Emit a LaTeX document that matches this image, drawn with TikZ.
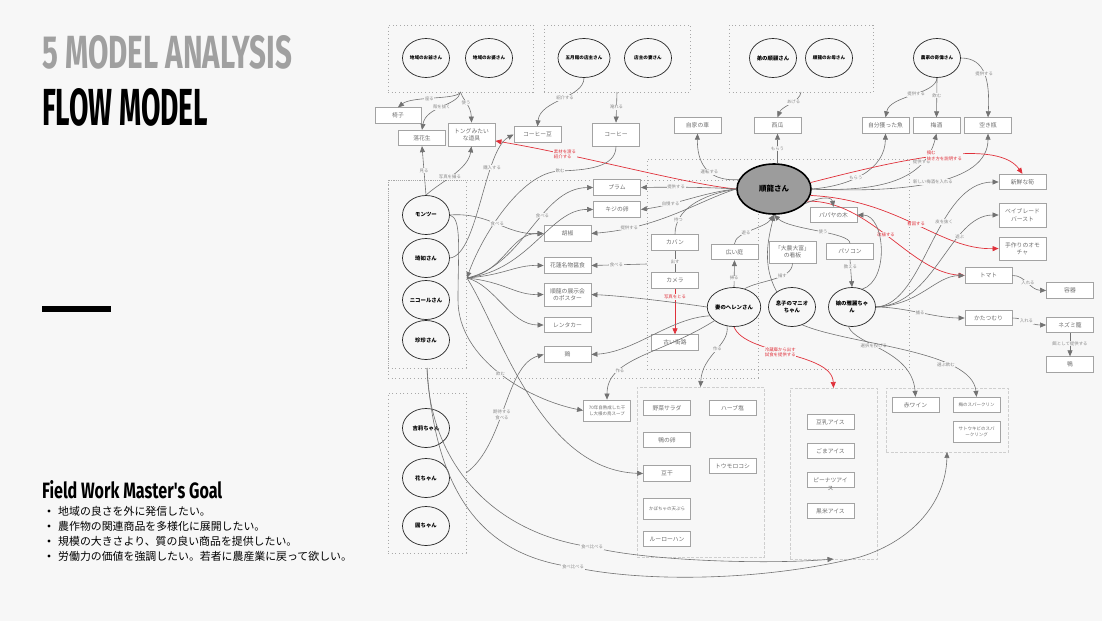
\documentclass[tikz,border=0pt]{standalone}
\usepackage{graphicx}
\usepackage{fontspec}
\setmainfont{Noto Sans CJK JP}
\newfontfamily\headfont{Fira Sans}
\usetikzlibrary{arrows.meta,shapes.geometric}

\definecolor{bgc}{HTML}{F7F7F7}
\definecolor{boxline}{HTML}{A3A3A3}
\definecolor{boxtext}{HTML}{6E6E6E}
\definecolor{lblc}{HTML}{8A8A8A}
\definecolor{arrc}{HTML}{727272}
\definecolor{redc}{HTML}{E0313B}
\definecolor{hubc}{HTML}{9C9C9C}
\definecolor{grpc}{HTML}{A8A8A8}
\definecolor{subgrpc}{HTML}{CFCFCF}
\definecolor{titlegray}{HTML}{A0A0A0}

\tikzset{
  item/.style={draw=boxline, fill=white, line width=0.8pt, minimum width=47pt,
    minimum height=15.5pt, inner sep=1pt, font=\fontsize{5.8}{7.2}\selectfont,
    text=boxtext, align=center},
  smallitem/.style={item, font=\fontsize{4.5}{6}\selectfont},
  tallitem/.style={item, minimum height=23pt},
  person/.style={ellipse, draw=black!85, line width=0.7pt, fill=bgc,
    minimum width=47pt, minimum height=39pt, inner sep=0pt,
    font=\fontsize{5.4}{6.8}\selectfont\bfseries, align=center},
  topperson/.style={person, font=\fontsize{4.6}{6}\selectfont\bfseries},
  hubnode/.style={ellipse, draw=black, line width=1.6pt, fill=hubc,
    minimum width=74pt, minimum height=50pt, inner sep=0pt,
    font=\fontsize{7.5}{9}\selectfont\bfseries},
  grp/.style={draw=grpc, line width=0.9pt, dash pattern=on 0.9pt off 2.8pt,
    inner sep=0pt, outer sep=0pt},
  subgrp/.style={draw=subgrpc, line width=0.6pt, dash pattern=on 3pt off 1.5pt,
    inner sep=0pt, outer sep=0pt},
  conn/.style={draw=arrc, line width=0.6pt, -{Triangle[length=6pt,width=5pt]}},
  plain/.style={draw=arrc, line width=0.6pt},
  hot/.style={draw=redc, line width=0.7pt, -{Triangle[length=6pt,width=5pt]}},
  lbl/.style={font=\fontsize{4.4}{5.4}\selectfont, text=lblc, fill=bgc,
    inner sep=0.6pt, align=center},
  hotlbl/.style={lbl, text=redc, align=left},
  bullet/.style={anchor=west, inner sep=0pt, font=\fontsize{10.9}{12}\selectfont},
}

\begin{document}
\begin{tikzpicture}[x=1pt,y=-1pt]
\fill[bgc] (0,0) rectangle (1102,621);
\useasboundingbox (0,0) rectangle (1102,621);

% ---------- left panel ----------
\node[anchor=north west, inner sep=0pt, text=titlegray] (title) at (42,35)
  {\resizebox{250pt}{33pt}{\headfont\bfseries 5 MODEL ANALYSIS}};
\node[anchor=north west, inner sep=0pt] (subtitle) at (42,88)
  {\resizebox{166pt}{37pt}{\headfont\bfseries FLOW MODEL}};
\fill (42,306) rectangle (111,312);
\node[anchor=north west, inner sep=0pt] (goal) at (42,480)
  {\resizebox{180pt}{18pt}{\headfont\bfseries Field Work Master's Goal}};
\foreach \yy in {511,526,541,556} { \fill (49,\yy) circle (1.7); }
\node[bullet] (goal1) at (58,511) {地域の良さを外に発信したい。};
\node[bullet] (goal2) at (58,526) {農作物の関連商品を多様化に展開したい。};
\node[bullet] (goal3) at (58,541) {規模の大きさより、質の良い商品を提供したい。};
\node[bullet] (goal4) at (58,556) {労働力の価値を強調したい。若者に農産業に戻って欲しい。};

% ---------- group frames ----------
\node[grp, minimum width=145pt, minimum height=67pt] (G1) at (460.5,58.5) {};
\node[grp, minimum width=146pt, minimum height=67pt] (G2) at (617,58.5) {};
\node[grp, minimum width=144pt, minimum height=67pt] (G3) at (801,58.5) {};
\node[grp, minimum width=370pt, minimum height=198pt] (GA) at (573,279) {};
\node[grp, minimum width=78pt, minimum height=188pt] (G5) at (427,274) {};
\node[grp, minimum width=262pt, minimum height=210pt] (G4) at (778,264) {};
\node[grp, minimum width=78pt, minimum height=160pt] (G6) at (427,473) {};
\node[subgrp, minimum width=127pt, minimum height=170pt] (G7) at (700.5,472) {};
\node[subgrp, minimum width=87pt, minimum height=171pt] (G8) at (833.5,473.5) {};
\node[subgrp, minimum width=122pt, minimum height=64pt] (G9) at (947,420) {};

% ---------- people ----------
\node[topperson] (jiji) at (426,58) {地域のお爺さん};
\node[topperson] (baba) at (489,58) {地域のお婆さん};
\node[topperson] (tenshu) at (584,58) {五月館の店主さん};
\node[topperson] (tsuma) at (648,58) {店主の妻さん};
\node[person] (otouto) at (773,58) {弟の順顧さん};
\node[topperson] (haha) at (829,58) {順龍のお母さん};
\node[topperson] (nouka) at (937,58) {農家の奇偉さん};
\node[person] (montsu) at (426,215) {モンツー};
\node[person] (qiru) at (426,258) {琦如さん};
\node[person] (nicole) at (426,300) {ニコールさん};
\node[person] (zhen) at (426,340) {珍珍さん};
\node[person] (jili) at (426,428) {吉莉ちゃん};
\node[person] (hana) at (426,478) {花ちゃん};
\node[person] (yuan) at (426,526) {圓ちゃん};
\node[person] (helen) at (734,307) {妻のヘレンさん};
\node[person] (manio) at (792,307) {息子のマニオ\\ちゃん};
\node[person] (musume) at (852,307) {娘の雅麗ちゃ\\ん};
\node[hubnode] (hub) at (774,189) {順龍さん};

% ---------- things ----------
\node[item, minimum width=46pt] (isu) at (398,115.5) {椅子};
\node[item] (rakka) at (422,138) {落花生};
\node[tallitem] (tong) at (471.5,134.5) {トングみたい\\な道具};
\node[item] (mame) at (537.5,134.5) {コーヒー豆};
\node[tallitem] (coffee) at (616,134.5) {コーヒー};
\node[item] (car) at (697.5,125.5) {自家の車};
\node[item] (suika) at (777.5,125.5) {西瓜};
\node[item] (fish) at (885.5,125.5) {自分獲った魚};
\node[item] (umeshu) at (936.5,125.5) {梅酒};
\node[item] (bin) at (988,125.5) {空き瓶};

\node[item] (plum) at (617,187.5) {プラム};
\node[item] (kiji) at (617,209.5) {キジの卵};
\node[item] (kosho) at (567.5,233.5) {胡椒};
\node[item] (karen) at (567.5,265.5) {花蓮名物醤食};
\node[tallitem] (poster) at (567.5,294.5) {順龍の展示会\\のポスター};
\node[item] (rent) at (567.5,325) {レンタカー};
\node[item] (tori) at (567.5,354.5) {鶏};
\node[smallitem, minimum height=21pt] (soup) at (607,410.5) {70年自熟成した干\\し大根の鳥スープ};

\node[item] (papaya) at (833.5,215) {パパヤの木};
\node[item] (kaban) at (675,242.5) {カバン};
\node[item] (camera) at (675,280.5) {カメラ};
\node[item] (niwa) at (734.5,252) {広い庭};
\node[item, minimum height=22pt] (kanban) at (792.5,252) {「大農大富」\\の看板};
\node[item] (pc) at (850,251.5) {パソコン};
\node[item] (gairo) at (675,342.5) {古い街路};

\node[item] (takenoko) at (1022.5,182) {新鮮な筍};
\node[item, minimum height=24pt] (bey) at (1022.5,215) {ベイブレード\\バースト};
\node[tallitem] (omocha) at (1022.5,248.5) {手作りのオモ\\チャ};
\node[item] (tomato) at (988.5,275.5) {トマト};
\node[item] (youki) at (1070,290.5) {容器};
\node[item] (katatsu) at (988.5,318) {かたつむり};
\node[item] (nezumi) at (1070,325) {ネズミ籠};
\node[item] (kamo) at (1070,364.5) {鴨};

\node[item] (yasai) at (667,408) {野菜サラダ};
\node[item] (herb) at (732.5,408) {ハーブ塩};
\node[item] (kamoegg) at (667,440) {鴨の卵};
\node[item] (toumoro) at (732.5,466) {トウモロコシ};
\node[item] (touhoshi) at (667,473.5) {豆干};
\node[smallitem, minimum height=21pt] (kabocha) at (667,508.5) {かぼちゃの天ぷら};
\node[item] (luro) at (667,539) {ルーローハン};

\node[item] (tounyu) at (830.5,422) {豆乳アイス};
\node[item] (goma) at (830.5,451) {ごまアイス};
\node[item, label={[font=\fontsize{5.8}{7}\selectfont, text=boxtext, inner sep=0pt, yshift=1.5pt]below:ス}] (peanut) at (830.5,480) {ピーナツアイ};
\node[item] (kuromai) at (830.5,511) {黒米アイス};

\node[item] (akawine) at (915.5,405) {赤ワイン};
\node[smallitem] (umespark) at (976.5,405) {梅のスパークリン};
\node[smallitem, minimum height=21pt] (sato) at (976.5,431.5) {サトウキビのスパ\\ークリング};

% ---------- connectors: top row ----------
\draw[conn] (G1.south) .. controls (458,100) and (412,96) .. (isu.north) node[lbl,pos=0.55]{座る};
\draw[conn] (G1.south) .. controls (458,106) and (426,106) .. (rakka.north) node[lbl,pos=0.5]{殻を抜く};
\draw[conn] (G1.south) .. controls (463,100) and (471,106) .. (tong.north) node[lbl,pos=0.45]{使う};
\draw[conn] (tenshu.south) .. controls (584,98) and (540,100) .. (mame.north) node[lbl,pos=0.45]{紹介する};
\draw[conn] (G2.south) -- (coffee.north) node[lbl,pos=0.5]{淹れる};
\draw[conn] (G3.south) .. controls (800,102) and (782,106) .. (suika.north) node[lbl,pos=0.4]{あげる};
\draw[conn] (suika.south |- hub.north) -- (suika.south) node[lbl,pos=0.5]{もらう};
\draw[conn] (nouka.south) .. controls (936,95) and (890,95) .. (fish.north) node[lbl,pos=0.45]{提供する};
\draw[conn] (nouka.south) -- (umeshu.north) node[lbl,pos=0.45]{飲む};
\draw[conn] (nouka.east) .. controls (985,58) and (990,80) .. (bin.north) node[lbl,pos=0.5]{提供する};

% ---------- connectors: around the hub ----------
\draw[conn] (hub.165) .. controls (705,182) and (697,160) .. (car.south) node[lbl,pos=0.4]{運転する};
\draw[conn] (hub.east) .. controls (850,186) and (885,170) .. (fish.south) node[lbl,pos=0.42]{もらう};
\draw[conn] (hub.east) .. controls (880,192) and (925,180) .. (umeshu.south) node[lbl,pos=0.75]{提供する};
\draw[conn] (hub.east) .. controls (900,193) and (988,185) .. (bin.south) node[lbl,pos=0.5]{新しい梅酒を入れる};
\draw[hot] (hub.10) .. controls (880,165) and (995,135) .. (takenoko.north) node[hotlbl,pos=0.55]{摘む\\抜き方を説明する};
\draw[hot] (hub.-10) .. controls (900,200) and (940,250) .. (omocha.west) node[hotlbl,pos=0.5]{看図する};
\draw[hot] (hub.-20) .. controls (870,200) and (910,272) .. (tomato.west) node[hotlbl,pos=0.48]{改植する};
\draw[hot] (hub.west) .. controls (690,185) and (580,155) .. (tong.-15) node[hotlbl,pos=0.74]{素材を渡る\\紹介する};
\draw[conn] (hub.west) .. controls (705,187) and (670,187) .. (plum.east) node[lbl,pos=0.62]{提供する};
\draw[conn] (hub.west) .. controls (705,192) and (675,205) .. (kiji.east) node[lbl,pos=0.7]{自慢する};
\draw[conn] (hub.west) .. controls (700,200) and (660,228) .. (kosho.east) node[lbl,pos=0.8]{提供する};
\draw[plain] (hub.west) .. controls (700,195) and (675,210) .. (kaban.north) node[lbl,pos=0.78]{持つ};
\draw[plain] (kaban.south) -- (camera.north) node[lbl,midway]{出す};
\draw[hot] (camera.south) -- (gairo.north) node[hotlbl,pos=0.18]{写真をとる};
\draw[conn] (hub.-25) .. controls (825,195) and (832,198) .. (papaya.north);
\draw[conn] (pc.north) .. controls (850,232) and (790,230) .. (hub.south) node[lbl,pos=0.45]{使う};
\draw[conn] (niwa.north) .. controls (735,232) and (765,228) .. (hub.south) node[lbl,pos=0.4]{遊る};
\draw[conn] (manio.135) .. controls (762,265) and (768,240) .. (hub.south);
\draw[conn] (helen.north) -- (niwa.south) node[lbl,pos=0.33]{掃る};
\draw[plain] (helen.60) .. controls (760,280) and (792,280) .. (kanban.south) node[lbl,pos=0.65]{描す};
\draw[conn] (pc.south) -- (musume.north) node[lbl,pos=0.25]{教える};

% ---------- connectors: daughter ----------
\draw[conn] (musume.60) .. controls (890,280) and (885,215) .. (papaya.east);
\draw[conn] (musume.east) .. controls (925,305) and (935,182) .. (takenoko.west) node[lbl,pos=0.62]{皮を抜く};
\draw[conn] (musume.east) .. controls (935,305) and (950,215) .. (bey.west) node[lbl,pos=0.68]{遊ぶ};
\draw[conn] (musume.east) .. controls (920,305) and (935,276) .. (tomato.west);
\draw[conn] (musume.east) .. controls (905,307) and (935,318) .. (katatsu.west) node[lbl,pos=0.5]{捕る};
\draw[conn] (tomato.east) .. controls (1025,275) and (1030,290) .. (youki.west) node[lbl,pos=0.5]{入れる};
\draw[conn] (katatsu.east) .. controls (1025,318) and (1030,325) .. (nezumi.west) node[lbl,pos=0.45]{入れる};
\draw[conn] (nezumi.south) -- (kamo.north) node[lbl,pos=0.45]{餌として提供する};
\draw[conn] (musume.-100) .. controls (855,345) and (912,350) .. (akawine.north) node[lbl,pos=0.4]{選択を投げる};
\draw[conn] (manio.-60) .. controls (850,345) and (972,350) .. (umespark.north) node[lbl,pos=0.7]{選ぶ飲む};

% ---------- connectors: wife ----------
\draw[conn] (helen.west) .. controls (680,303) and (625,296) .. (poster.east);
\draw[conn] (helen.200) .. controls (670,318) and (635,352) .. (tori.east);
\draw[conn] (helen.215) .. controls (660,355) and (607,358) .. (soup.north) node[lbl,pos=0.7]{作る};
\draw[conn] (helen.250) .. controls (730,345) and (702,355) .. (G7.north) node[lbl,pos=0.45]{作る};
\draw[hot] (helen.south) .. controls (745,355) and (832,352) .. (G8.north) node[hotlbl,pos=0.45]{冷蔵庫から出す\\試食を提供する};
\draw[conn] (G4.west) -- (karen.east) node[lbl,pos=0.55]{食べる};

% ---------- connectors: left side ----------
\coordinate (F) at (467,278);
\draw[conn] (montsu.north) -- (rakka.south) node[lbl,pos=0.5]{見る};
\draw[conn] (montsu.north) .. controls (440,182) and (468,170) .. (tong.south) node[lbl,pos=0.45]{写真を撮る};
\draw[conn] (qiru.east) .. controls (478,255) and (484,150) .. (mame.west) node[lbl,pos=0.7]{購入する};
\draw[conn] (coffee.south) .. controls (616,168) and (585,170) .. (560,171) node[lbl]{飲む}
  .. controls (520,172) and (480,240) .. (F);
\draw[conn] (F) .. controls (525,265) and (540,188) .. (plum.west) node[lbl,pos=0.6]{食べる};
\draw[conn] (F) .. controls (530,270) and (550,209) .. (kiji.west);
\draw[conn] (F) .. controls (505,272) and (510,233) .. (kosho.west);
\draw[conn] (F) .. controls (505,275) and (515,265) .. (karen.west);
\draw[conn] (F) .. controls (505,282) and (515,295) .. (poster.west);
\draw[conn] (F) .. controls (495,285) and (510,325) .. (rent.west);
\draw[conn] (F) .. controls (500,330) and (540,470) .. (touhoshi.west);
\draw[conn] (montsu.east) .. controls (490,212) and (505,235) .. (kosho.west) node[lbl,pos=0.5]{食べる};
\draw[conn] (montsu.east) .. controls (462,218) and (458,250) .. (458,300)
  .. controls (458,360) and (530,400) .. (soup.west) node[lbl,pos=0.5]{飲む};
\draw[conn] (G6.east) .. controls (505,445) and (505,365) .. (tori.west) node[lbl,pos=0.45]{期待する\\食べる};
\draw[conn] (G5.south) .. controls (430,470) and (500,535) .. (592,547) node[lbl]{食べ比べる}
  .. controls (640,560) and (760,565) .. (G8.south);
\draw[conn] (G5.south) .. controls (435,490) and (480,555) .. (573,567) node[lbl]{食べ比べる}
  .. controls (640,582) and (760,582) .. (860,557)
  .. controls (915,540) and (946,500) .. (G9.south);
\end{tikzpicture}
\end{document}
